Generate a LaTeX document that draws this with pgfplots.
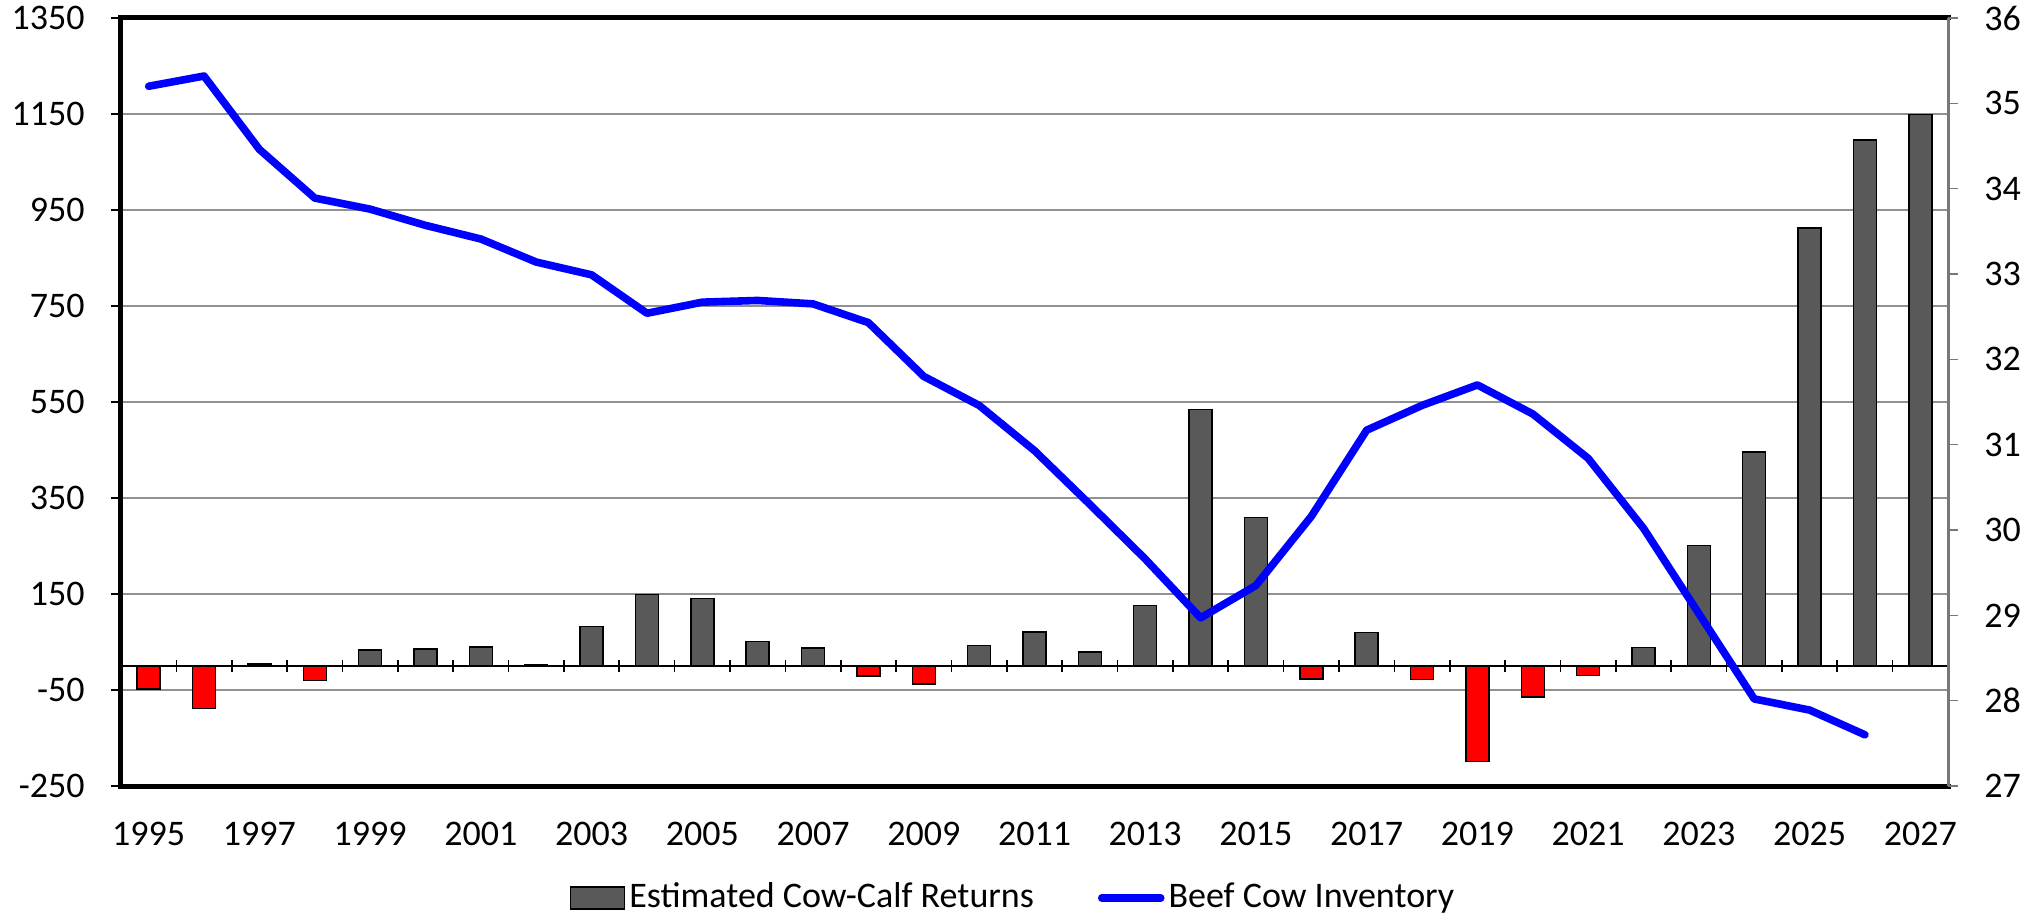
\documentclass[border=0pt]{standalone}
\usepackage{fontspec}
\setmainfont{Carlito}
\usepackage{pgfplots}
\pgfplotsset{compat=1.18}

\definecolor{bargray}{RGB}{89,89,89}
\definecolor{gridgray}{RGB}{145,145,145}
\definecolor{rightgray}{RGB}{120,120,120}
\definecolor{linblue}{RGB}{0,0,255}

\pgfplotsset{
  barleg/.style={legend image code/.code={\draw[##1] (0pt,-5.5pt) rectangle (27pt,5.5pt);}},
  lineleg/.style={legend image code/.code={\draw[##1] (0pt,0pt) -- (29.5pt,0pt);}},
}

\pgfplotstableread{
year val
1997 4
1999 33
2000 35
2001 40
2002 2
2003 82
2004 149
2005 141
2006 51
2007 38
2010 43
2011 71
2012 29
2013 126
2014 534
2015 309
2017 70
2022 39
2023 251
2024 446
2025 913
2026 1096
2027 1149
}\pos

\pgfplotstableread{
year val
1995 -48
1996 -89
1998 -30
2008 -21
2009 -37
2016 -27
2018 -28
2019 -199
2020 -65
2021 -20
}\neg

\pgfplotstableread{
year inv
1995 35.20
1996 35.32
1997 34.46
1998 33.89
1999 33.76
2000 33.57
2001 33.41
2002 33.14
2003 32.99
2004 32.54
2005 32.67
2006 32.69
2007 32.65
2008 32.43
2009 31.80
2010 31.46
2011 30.93
2012 30.30
2013 29.66
2014 28.97
2015 29.35
2016 30.16
2017 31.17
2018 31.46
2019 31.70
2020 31.36
2021 30.84
2022 30.02
2023 29.02
2024 28.02
2025 27.89
2026 27.60
}\inv

\begin{document}
\fontsize{18pt}{21pt}\selectfont
\begin{tikzpicture}
\useasboundingbox (0,0) rectangle (1018pt,458.5pt);
\pgfplotsset{
  common/.style={
    at={(60.5pt,65.5pt)}, anchor=south west,
    scale only axis, width=913.5pt, height=384pt,
    xmin=1994.5, xmax=2027.5,
    /pgf/number format/assume math mode=true,
    /pgf/number format/1000 sep={},
    ticklabel style={font=\fontsize{18pt}{21pt}\selectfont},
  }
}
% bars
\begin{axis}[common,
  ymin=-250, ymax=1350,
  ytick={-250,-50,...,1350},
  ymajorgrids, grid style={gridgray, line width=1pt},
  axis x line*=box, axis y line*=left,
  axis line style={line width=2.5pt, line cap=rect},
  xtick={1995,1997,...,2027},
  xtick style={draw=none},
  xticklabel style={yshift=-12pt},
  ytick align=outside,
  ytick style={black, line width=0.8pt},
  major tick length=5pt,
  yticklabel style={xshift=-7pt},
]
\addplot[ybar, bar width=11.5pt, bar shift=0pt, fill=bargray, draw=black, line width=0.75pt] table[x=year, y=val] {\pos};
\addplot[ybar, bar width=11.5pt, bar shift=0pt, fill=red, draw=black, line width=0.75pt] table[x=year, y=val] {\neg};
\end{axis}
% zero line with category ticks
\begin{axis}[common,
  ymin=-250, ymax=1350,
  axis y line=none, axis x line*=middle,
  x axis line style={-, black, line width=0.8pt},
  xtick={1994.5,1995.5,...,2027.5},
  xticklabels={},
  major tick length=5.7pt,
  xtick style={black, line width=0.8pt, yshift=-2.85pt},
]
\end{axis}
% inventory line
\begin{axis}[common,
  ymin=27, ymax=36,
  ytick={27,...,36},
  axis x line=none, axis y line*=right,
  y axis line style={-, rightgray, line width=1.5pt},
  ytick style={rightgray, line width=0.8pt},
  ytick align=outside,
  major tick length=5pt,
  yticklabel style={xshift=7pt},
  legend columns=2,
  legend cell align=left,
  legend style={at={(0.4888,-0.1458)}, anchor=center, draw=none, fill=none,
    font=\fontsize{18pt}{21pt}\selectfont,
    /tikz/every even column/.append style={column sep=30pt}},
]
\addlegendimage{fill=bargray, draw=black, line width=0.75pt, barleg}
\addlegendentry{Estimated Cow-Calf Returns}
\addplot[linblue, line width=3.8pt, line join=round, line cap=round, lineleg]
  table[x=year, y=inv] {\inv};
\addlegendentry{Beef Cow Inventory}
\end{axis}
\end{tikzpicture}
\end{document}
